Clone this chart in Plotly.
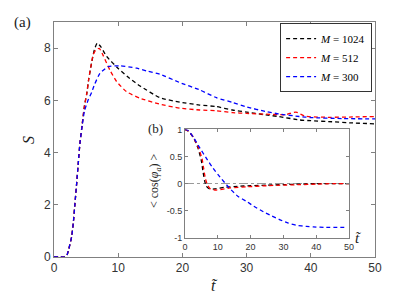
import plotly.graph_objects as go

# ---- main panel (a): S vs t ----
t_1024 = [0, 1, 1.6, 1.95, 2.3, 2.75, 3.0, 3.27, 3.53, 3.78, 4.04, 4.4, 4.75, 5.1, 5.4, 5.85, 6.3, 6.74, 7.3, 8.2, 10, 11.8, 13.4, 16.5, 19.6, 22.7, 25.3, 27.8, 30, 33, 35, 38.2, 40, 43.3, 46, 50]
S_1024 = [0, 0, 0, 0.03, 0.3, 0.78, 1.29, 2.06, 2.82, 3.59, 4.36, 5.1, 5.8, 6.25, 6.8, 7.42, 7.95, 8.19, 8.05, 7.68, 7.22, 6.84, 6.55, 6.1, 5.93, 5.82, 5.76, 5.63, 5.55, 5.44, 5.38, 5.25, 5.22, 5.18, 5.14, 5.1]

t_512 = [0, 1, 1.6, 1.95, 2.3, 2.75, 3.0, 3.27, 3.53, 3.78, 4.04, 4.4, 4.75, 5.1, 5.4, 5.85, 6.1, 6.5, 7.05, 7.6, 8.7, 9.75, 11.3, 13.4, 16.5, 19.6, 22.7, 25.3, 27.8, 30, 33, 36, 37.7, 39, 40, 43, 46, 50]
S_512 = [0, 0, 0, 0.03, 0.3, 0.78, 1.29, 2.06, 2.82, 3.59, 4.36, 5.1, 5.8, 6.25, 6.8, 7.45, 7.75, 7.93, 7.99, 7.75, 7.16, 6.72, 6.33, 6.08, 5.85, 5.7, 5.63, 5.6, 5.53, 5.5, 5.47, 5.45, 5.55, 5.4, 5.37, 5.35, 5.36, 5.38]

t_300 = [0, 1, 1.6, 1.95, 2.3, 2.75, 3.0, 3.27, 3.53, 3.78, 4.04, 4.4, 4.75, 5.3, 5.86, 6.3, 7.15, 8.45, 10.3, 12.9, 14.5, 16.5, 19.6, 22.7, 25.3, 27.8, 30, 33, 35, 38.2, 40, 45, 50]
S_300 = [0, 0, 0, 0.03, 0.3, 0.78, 1.29, 2.06, 2.82, 3.59, 4.36, 5.05, 5.6, 6.0, 6.3, 6.6, 7.03, 7.29, 7.32, 7.23, 7.12, 7.0, 6.68, 6.4, 6.1, 5.92, 5.75, 5.57, 5.48, 5.38, 5.34, 5.3, 5.29]

# ---- inset panel (b): <cos(phi_a)> vs t ----
ti_1024 = [0, 1, 2.5, 4.0, 5.0, 5.5, 6.0, 6.5, 7.5, 9, 12, 16, 20, 25, 30, 35, 40, 45, 50]
c_1024 = [1, 0.97, 0.86, 0.65, 0.42, 0.22, 0.05, -0.05, -0.1, -0.1, -0.07, -0.05, -0.04, -0.03, -0.02, -0.01, 0.0, 0.0, 0.0]

ti_512 = [0, 1, 2.5, 4.1, 5.2, 5.7, 6.2, 6.8, 7.8, 9.5, 13.7, 18.8, 25, 29, 35, 40, 45, 50]
c_512 = [1, 0.97, 0.86, 0.66, 0.46, 0.28, 0.1, -0.02, -0.1, -0.12, -0.08, -0.06, -0.04, -0.03, -0.02, -0.01, 0.0, 0.0]

ti_300 = [0, 1, 2.5, 4.6, 6.6, 8.6, 10.7, 13.2, 16.2, 18.8, 21, 23.9, 26.5, 29, 31.5, 34, 37, 39.1, 43, 49.3]
c_300 = [1, 0.98, 0.86, 0.65, 0.46, 0.28, 0.12, -0.06, -0.24, -0.33, -0.42, -0.52, -0.6, -0.67, -0.73, -0.77, -0.79, -0.8, -0.81, -0.81]

ref_t = [0, 50]
ref_c = [0, 0]

names = ["<i>M</i> = 1024", "<i>M</i> = 512", "<i>M</i> = 300"]
colors = ["#000000", "#ff0000", "#0000ff"]
dash = "4px,3px"
lw = 1.3

fig = go.Figure()
for t, s, n, c in [(t_1024, S_1024, names[0], colors[0]),
                   (t_512, S_512, names[1], colors[1]),
                   (t_300, S_300, names[2], colors[2])]:
    fig.add_trace(go.Scatter(x=t, y=s, mode="lines", name=n,
                             line=dict(color=c, width=lw, dash=dash, shape="spline", smoothing=0.5),
                             xaxis="x", yaxis="y"))

fig.add_trace(go.Scatter(x=ref_t, y=ref_c, mode="lines", showlegend=False,
                         line=dict(color="#999999", width=1.1, dash="dashdot"),
                         xaxis="x2", yaxis="y2"))
for t, s, c in [(ti_1024, c_1024, colors[0]), (ti_512, c_512, colors[1]), (ti_300, c_300, colors[2])]:
    fig.add_trace(go.Scatter(x=t, y=s, mode="lines", showlegend=False,
                             line=dict(color=c, width=lw, dash=dash, shape="spline", smoothing=0.5),
                             xaxis="x2", yaxis="y2"))

axcol = "#808080"
tickfont = dict(family="Liberation Sans, Arial", size=12, color="#333333")
tickfont2 = dict(family="Liberation Sans, Arial", size=9, color="#333333")

fig.update_layout(
    width=415, height=294,
    margin=dict(l=54, r=40, t=22, b=37, autoexpand=False),
    paper_bgcolor="white", plot_bgcolor="white",
    showlegend=True,
    legend=dict(x=0.991, y=0.995, xanchor="right", yanchor="top",
                bgcolor="white", bordercolor="#333333", borderwidth=1,
                font=dict(family="Liberation Serif, DejaVu Serif", size=11, color="black"),
                tracegroupgap=0, itemwidth=30),
    xaxis=dict(domain=[0, 1], range=[0, 50], tickvals=[0, 10, 20, 30, 40, 50],
               showgrid=False, zeroline=False, showline=True, linecolor=axcol, linewidth=1,
               mirror="ticks", ticks="inside", ticklen=4, tickcolor=axcol,
               tickfont=tickfont),
    yaxis=dict(domain=[0, 1], range=[0, 9], tickvals=[0, 2, 4, 6, 8],
               showgrid=False, zeroline=False, showline=True, linecolor=axcol, linewidth=1,
               mirror="ticks", ticks="inside", ticklen=4, tickcolor=axcol,
               tickfont=tickfont),
    xaxis2=dict(domain=[0.408, 0.919], range=[0, 50], tickvals=[0, 10, 20, 30, 40, 50],
                anchor="y2", showgrid=False, zeroline=False, showline=True, linecolor=axcol, linewidth=1,
                mirror="ticks", ticks="inside", ticklen=3, tickcolor=axcol,
                tickfont=tickfont2),
    yaxis2=dict(domain=[0.082, 0.543], range=[-1, 1], tickvals=[-1, -0.5, 0, 0.5, 1],
                ticktext=["-1", "-0.5", "0", "0.5", "1"],
                anchor="x2", showgrid=False, zeroline=False, showline=True, linecolor=axcol, linewidth=1,
                mirror="ticks", ticks="inside", ticklen=3, tickcolor=axcol,
                tickfont=tickfont2),
)

serif = "Liberation Serif, DejaVu Serif"


def px_ann(text, x, y, size, angle=0):
    fig.add_annotation(text=text, xref="paper", yref="paper",
                       x=(x - 54) / 321, y=(257 - y) / 235,
                       xanchor="center", yanchor="middle", showarrow=False, textangle=angle,
                       font=dict(family=serif, size=size, color="#222222"))


px_ann("(a)", 22, 22, 15)
px_ann("(b)", 155, 128, 13)
px_ann("<i>S</i>", 28, 140, 16, -90)
px_ann("<i>t\u0303</i>", 214, 285, 16)
px_ann("&lt; cos(<i>φ<sub>a</sub></i>) &gt;", 155, 181, 12, -90)
px_ann("<i>t\u0303</i>", 358, 238, 15)

fig.write_html("out.html", config={"displayModeBar": False},
               post_script="document.body.style.margin='0px';document.body.style.padding='0px';")
